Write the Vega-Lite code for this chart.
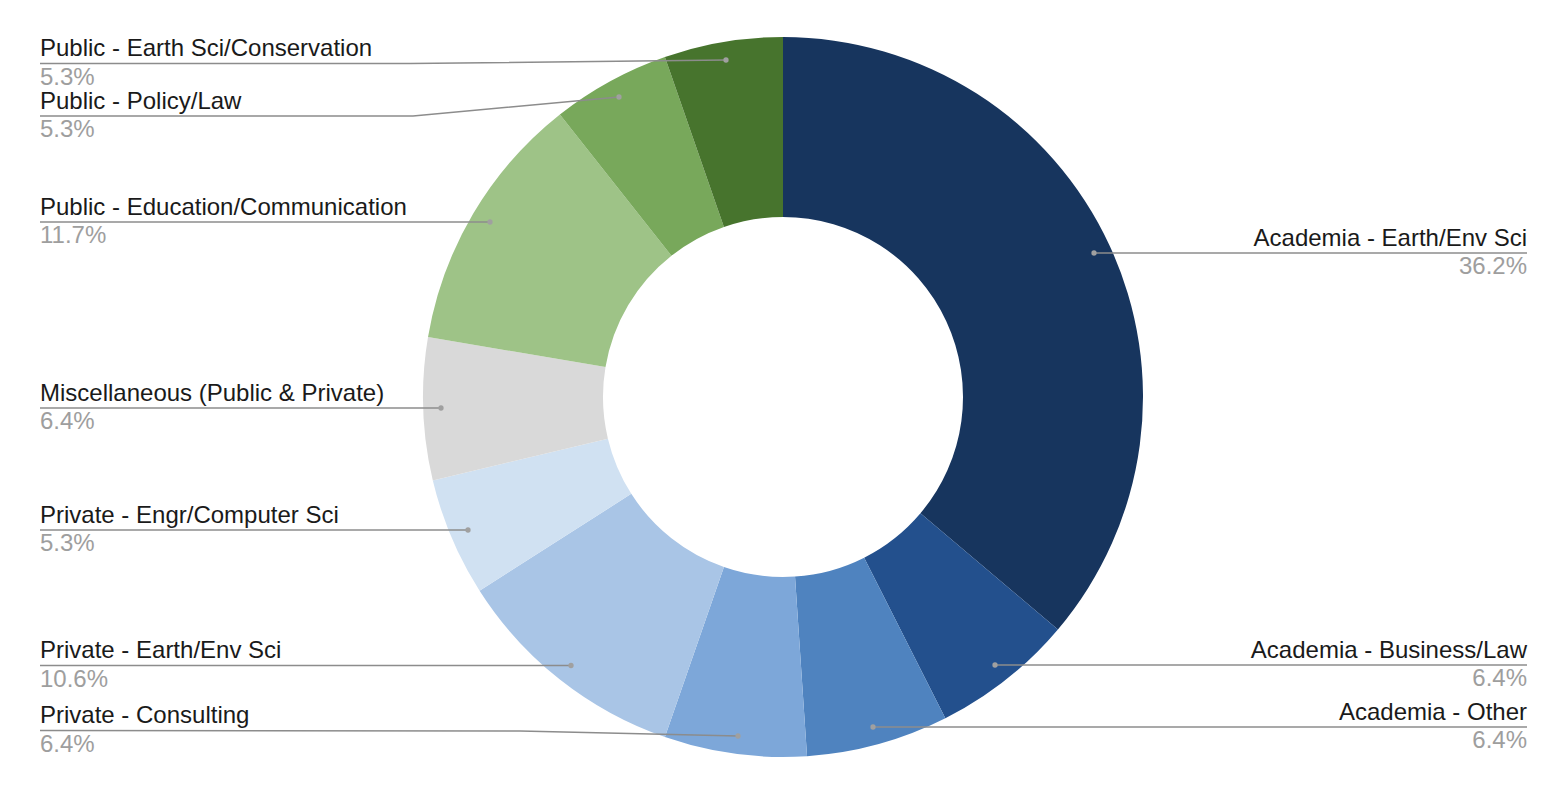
{
  "$schema": "https://vega.github.io/schema/vega-lite/v6.json",
  "autosize": {"type": "fit", "contains": "padding"},
  "width": 1562,
  "height": 792,
  "padding": {"left": 4, "top": 2, "right": 0, "bottom": 0},
  "background": "white",
  "config": {"view": {"stroke": null}, "font": "Liberation Sans"},
  "datasets": {
    "slices": [
      {"category": "Academia - Earth/Env Sci", "count": 34, "ord": 1},
      {"category": "Academia - Business/Law", "count": 6, "ord": 2},
      {"category": "Academia - Other", "count": 6, "ord": 3},
      {"category": "Private - Consulting", "count": 6, "ord": 4},
      {"category": "Private - Earth/Env Sci", "count": 10, "ord": 5},
      {"category": "Private - Engr/Computer Sci", "count": 5, "ord": 6},
      {"category": "Miscellaneous (Public & Private)", "count": 6, "ord": 7},
      {"category": "Public - Education/Communication", "count": 11, "ord": 8},
      {"category": "Public - Policy/Law", "count": 5, "ord": 9},
      {"category": "Public - Earth Sci/Conservation", "count": 5, "ord": 10}
    ],
    "labels": [
      {"name": "Public - Earth Sci/Conservation", "pct": "5.3%", "side": "left", "x": 40, "line": 63.5},
      {"name": "Public - Policy/Law", "pct": "5.3%", "side": "left", "x": 40, "line": 116},
      {"name": "Public - Education/Communication", "pct": "11.7%", "side": "left", "x": 40, "line": 222},
      {"name": "Miscellaneous (Public & Private)", "pct": "6.4%", "side": "left", "x": 40, "line": 408},
      {"name": "Private - Engr/Computer Sci", "pct": "5.3%", "side": "left", "x": 40, "line": 530},
      {"name": "Private - Earth/Env Sci", "pct": "10.6%", "side": "left", "x": 40, "line": 665.5},
      {"name": "Private - Consulting", "pct": "6.4%", "side": "left", "x": 40, "line": 730.5},
      {"name": "Academia - Earth/Env Sci", "pct": "36.2%", "side": "right", "x": 1527, "line": 253},
      {"name": "Academia - Business/Law", "pct": "6.4%", "side": "right", "x": 1527, "line": 665},
      {"name": "Academia - Other", "pct": "6.4%", "side": "right", "x": 1527, "line": 727}
    ],
    "leaders": [
      {"name": "Public - Earth Sci/Conservation", "seq": 1, "x": 40, "y": 63.5},
      {"name": "Public - Earth Sci/Conservation", "seq": 2, "x": 410, "y": 63.5},
      {"name": "Public - Earth Sci/Conservation", "seq": 3, "x": 726, "y": 60},
      {"name": "Public - Policy/Law", "seq": 1, "x": 40, "y": 116},
      {"name": "Public - Policy/Law", "seq": 2, "x": 413, "y": 116},
      {"name": "Public - Policy/Law", "seq": 3, "x": 619, "y": 97},
      {"name": "Public - Education/Communication", "seq": 1, "x": 40, "y": 222},
      {"name": "Public - Education/Communication", "seq": 2, "x": 490, "y": 222},
      {"name": "Miscellaneous (Public & Private)", "seq": 1, "x": 40, "y": 408},
      {"name": "Miscellaneous (Public & Private)", "seq": 2, "x": 441, "y": 408},
      {"name": "Private - Engr/Computer Sci", "seq": 1, "x": 40, "y": 530},
      {"name": "Private - Engr/Computer Sci", "seq": 2, "x": 468, "y": 530},
      {"name": "Private - Earth/Env Sci", "seq": 1, "x": 40, "y": 665.5},
      {"name": "Private - Earth/Env Sci", "seq": 2, "x": 571, "y": 665.5},
      {"name": "Private - Consulting", "seq": 1, "x": 40, "y": 730.5},
      {"name": "Private - Consulting", "seq": 2, "x": 520, "y": 731},
      {"name": "Private - Consulting", "seq": 3, "x": 738, "y": 736},
      {"name": "Academia - Earth/Env Sci", "seq": 1, "x": 1094, "y": 253},
      {"name": "Academia - Earth/Env Sci", "seq": 2, "x": 1527, "y": 253},
      {"name": "Academia - Business/Law", "seq": 1, "x": 995, "y": 665},
      {"name": "Academia - Business/Law", "seq": 2, "x": 1527, "y": 665},
      {"name": "Academia - Other", "seq": 1, "x": 873, "y": 727},
      {"name": "Academia - Other", "seq": 2, "x": 1527, "y": 727}
    ],
    "dots": [
      {"name": "Public - Earth Sci/Conservation", "x": 726, "y": 60},
      {"name": "Public - Policy/Law", "x": 619, "y": 97},
      {"name": "Public - Education/Communication", "x": 490, "y": 222},
      {"name": "Miscellaneous (Public & Private)", "x": 441, "y": 408},
      {"name": "Private - Engr/Computer Sci", "x": 468, "y": 530},
      {"name": "Private - Earth/Env Sci", "x": 571, "y": 665.5},
      {"name": "Private - Consulting", "x": 738, "y": 736},
      {"name": "Academia - Earth/Env Sci", "x": 1094, "y": 253},
      {"name": "Academia - Business/Law", "x": 995, "y": 665},
      {"name": "Academia - Other", "x": 873, "y": 727}
    ]
  },
  "layer": [
    {
      "data": {"name": "slices"},
      "mark": {"type": "arc", "outerRadius": 360, "innerRadius": 180, "stroke": null},
      "encoding": {
        "theta": {"field": "count", "type": "quantitative", "stack": true},
        "order": {"field": "ord", "type": "quantitative", "sort": "ascending"},
        "color": {
          "field": "category",
          "type": "nominal",
          "legend": null,
          "scale": {
            "domain": ["Academia - Earth/Env Sci", "Academia - Business/Law", "Academia - Other", "Private - Consulting", "Private - Earth/Env Sci", "Private - Engr/Computer Sci", "Miscellaneous (Public & Private)", "Public - Education/Communication", "Public - Policy/Law", "Public - Earth Sci/Conservation"],
            "range": ["#17355e", "#23508d", "#4f83bf", "#7da7d9", "#a9c5e6", "#d0e1f2", "#d9d9d9", "#9ec387", "#78a85b", "#47742d"]
          }
        }
      }
    },
    {
      "data": {"name": "leaders"},
      "mark": {"type": "line", "color": "#8c8c8c", "strokeWidth": 1.5},
      "encoding": {
        "x": {"field": "x", "type": "quantitative", "axis": null, "scale": {"domain": [4, 1562], "nice": false, "zero": false}},
        "y": {"field": "y", "type": "quantitative", "axis": null, "scale": {"domain": [2, 792], "nice": false, "zero": false, "reverse": true}},
        "detail": {"field": "name", "type": "nominal"},
        "order": {"field": "seq", "type": "quantitative"}
      }
    },
    {
      "data": {"name": "dots"},
      "mark": {"type": "point", "filled": true, "color": "#a0a0a0", "size": 28, "opacity": 1},
      "encoding": {
        "x": {"field": "x", "type": "quantitative"},
        "y": {"field": "y", "type": "quantitative"}
      }
    },
    {
      "data": {"name": "labels"},
      "transform": [{"filter": "datum.side === 'left'"}],
      "layer": [
        {
          "mark": {"type": "text", "align": "left", "baseline": "alphabetic", "fontSize": 24, "color": "#1a1a1a", "dy": -7.5},
          "encoding": {
            "x": {"field": "x", "type": "quantitative"},
            "y": {"field": "line", "type": "quantitative"},
            "text": {"field": "name"}
          }
        },
        {
          "mark": {"type": "text", "align": "left", "baseline": "alphabetic", "fontSize": 24, "color": "#9e9e9e", "dy": 21},
          "encoding": {
            "x": {"field": "x", "type": "quantitative"},
            "y": {"field": "line", "type": "quantitative"},
            "text": {"field": "pct"}
          }
        }
      ]
    },
    {
      "data": {"name": "labels"},
      "transform": [{"filter": "datum.side === 'right'"}],
      "layer": [
        {
          "mark": {"type": "text", "align": "right", "baseline": "alphabetic", "fontSize": 24, "color": "#1a1a1a", "dy": -7.5},
          "encoding": {
            "x": {"field": "x", "type": "quantitative"},
            "y": {"field": "line", "type": "quantitative"},
            "text": {"field": "name"}
          }
        },
        {
          "mark": {"type": "text", "align": "right", "baseline": "alphabetic", "fontSize": 24, "color": "#9e9e9e", "dy": 21},
          "encoding": {
            "x": {"field": "x", "type": "quantitative"},
            "y": {"field": "line", "type": "quantitative"},
            "text": {"field": "pct"}
          }
        }
      ]
    }
  ]
}
